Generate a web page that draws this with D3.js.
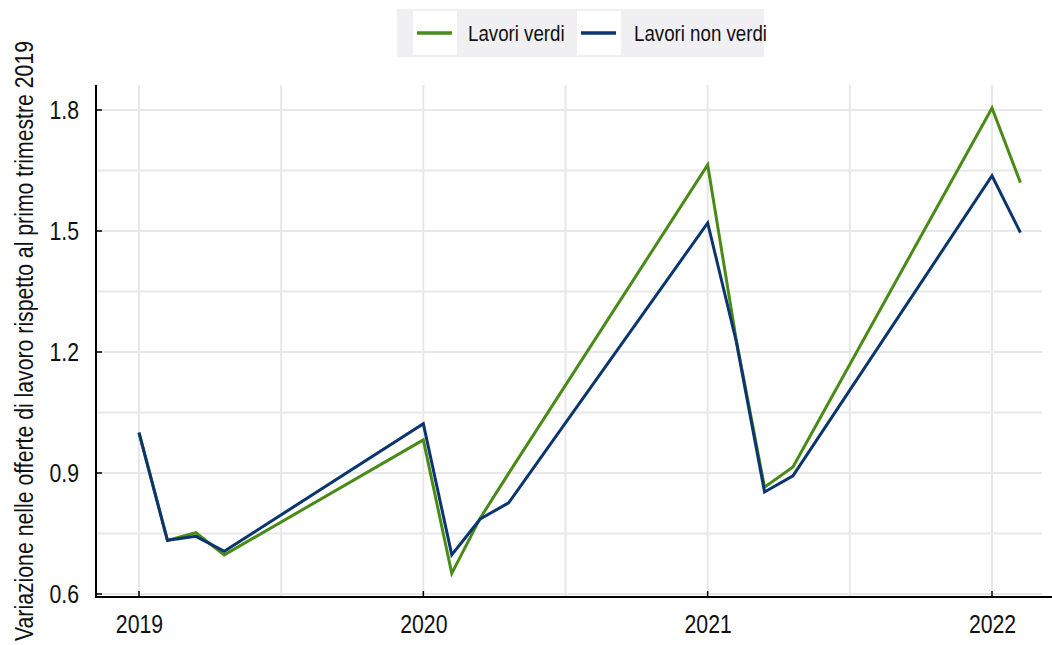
<!DOCTYPE html>
<html>
<head>
<meta charset="utf-8">
<script src="https://cdn.jsdelivr.net/npm/d3@7"></script>
<style>
  html, body { margin: 0; padding: 0; background: #ffffff; }
  svg { display: block; }
  text { font-family: "Liberation Sans", Arial, sans-serif; fill: #111; }
</style>
</head>
<body>
<svg id="chart" width="1052" height="645"></svg>
<script>
// ---- data ----
const periods = ["2019 T1","2019 T2","2019 T3","2019 T4","2020 T1","2020 T2","2020 T3","2020 T4",
                 "2021 T1","2021 T2","2021 T3","2021 T4","2022 T1","2022 T2"];
const periodPos = [2019.0,2019.1,2019.2,2019.3,2020.0,2020.1,2020.2,2020.3,
                   2021.0,2021.1,2021.2,2021.3,2022.0,2022.1];
const verdi    = [1.000,0.733,0.752,0.697,0.982,0.651,0.788,0.899,1.664,1.232,0.865,0.915,1.805,1.620];
const nonVerdi = [1.000,0.733,0.743,0.706,1.022,0.697,0.786,0.826,1.520,1.228,0.853,0.893,1.637,1.496];
const seriesNames = ["Lavori verdi","Lavori non verdi"];
const xTickValues = [2019, 2020, 2021, 2022];
const xGridValues = [2019, 2019.5, 2020, 2020.5, 2021, 2021.5, 2022];
const yTickValues = [0.6, 0.9, 1.2, 1.5, 1.8];
const yGridValues = [0.6, 0.75, 0.9, 1.05, 1.2, 1.35, 1.5, 1.65, 1.8];
const yTitle = "Variazione nelle offerte di lavoro rispetto al primo trimestre 2019";

(function () {
const NARROW = 0.85;
const colors = ["#4a8a17", "#0b356f"];
const svg = d3.select("#chart");
const pLeft = 96, pRight = 1052, pTop = 85, pBottom = 597;

const x = d3.scaleLinear().domain([2018.8488, 2022.211]).range([pLeft, pRight]);
const y = d3.scaleLinear().domain([0.6, 1.8]).range([594, 110]);

// grid
svg.append("g").selectAll("line").data(yGridValues).join("line")
  .attr("x1", pLeft).attr("x2", pRight - 10)
  .attr("y1", d => y(d)).attr("y2", d => y(d))
  .attr("stroke", "#e8e8e8").attr("stroke-width", 2);
svg.append("g").selectAll("line").data(xGridValues).join("line")
  .attr("x1", d => x(d)).attr("x2", d => x(d))
  .attr("y1", pTop).attr("y2", pBottom)
  .attr("stroke", "#e8e8e8").attr("stroke-width", 2);

// axes
const xAxis = d3.axisBottom(x).tickValues(xTickValues).tickFormat(d3.format("d")).tickSize(0).tickPadding(18);
const gx = svg.append("g").attr("transform", `translate(0,${pBottom})`).call(xAxis);
gx.select(".domain").remove();
gx.selectAll("text").attr("font-size", 25).attr("fill", "#111")
  .attr("font-family", '"Liberation Sans", Arial, sans-serif')
  .attr("transform", `scale(${NARROW},1)`);
svg.append("g").selectAll("line").data(xTickValues).join("line")
  .attr("x1", d => x(d)).attr("x2", d => x(d))
  .attr("y1", pBottom).attr("y2", pBottom - 6)
  .attr("stroke", "#000").attr("stroke-width", 1.5);

const yAxis = d3.axisLeft(y).tickValues(yTickValues).tickFormat(d3.format(".1f")).tickSize(0).tickPadding(20);
const gy = svg.append("g").attr("transform", `translate(${pLeft},0)`).call(yAxis);
gy.select(".domain").remove();
gy.selectAll("text").attr("font-size", 25).attr("fill", "#111")
  .attr("font-family", '"Liberation Sans", Arial, sans-serif')
  .attr("transform", `scale(${NARROW},1)`);
svg.append("g").selectAll("line").data(yTickValues).join("line")
  .attr("x1", pLeft).attr("x2", pLeft + 6)
  .attr("y1", d => y(d)).attr("y2", d => y(d))
  .attr("stroke", "#000").attr("stroke-width", 1.5);

svg.append("line").attr("x1", pLeft).attr("x2", pLeft).attr("y1", pTop).attr("y2", pBottom + 1)
  .attr("stroke", "#000").attr("stroke-width", 2);
svg.append("line").attr("x1", pLeft - 1).attr("x2", pRight).attr("y1", pBottom).attr("y2", pBottom)
  .attr("stroke", "#000").attr("stroke-width", 2);

// y title
svg.append("text")
  .attr("transform", `translate(33,341) rotate(-90) scale(${NARROW},1)`)
  .attr("text-anchor", "middle")
  .attr("font-size", 25)
  .text(yTitle);

// lines
const line = d3.line().x((d, i) => x(periodPos[i])).y(d => y(d));
[verdi, nonVerdi].forEach((s, k) => {
  svg.append("path").datum(s)
    .attr("d", line)
    .attr("fill", "none")
    .attr("stroke", colors[k])
    .attr("stroke-width", 3)
    .attr("stroke-linejoin", "miter");
});

// legend
const lg = svg.append("g");
lg.append("rect").attr("x", 397).attr("y", 9).attr("width", 367).attr("height", 48).attr("fill", "#f0eff2");
const legendItems = [{x: 413, tx: 468}, {x: 577, tx: 634}];
legendItems.forEach((it, k) => {
  lg.append("rect").attr("x", it.x).attr("y", 11).attr("width", 44).attr("height", 44).attr("fill", "#fff");
  lg.append("line").attr("x1", it.x + 4).attr("x2", it.x + 39).attr("y1", 33).attr("y2", 33)
    .attr("stroke", colors[k]).attr("stroke-width", 3.5);
  lg.append("text").attr("transform", `translate(${it.tx},33) scale(${NARROW},1)`)
    .attr("dy", "0.36em").attr("font-size", 22).text(seriesNames[k]);
});
})();
</script>
</body>
</html>
